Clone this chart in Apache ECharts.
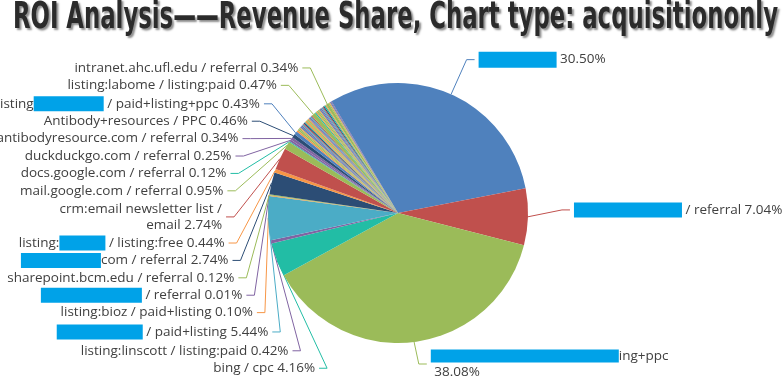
<!DOCTYPE html>
<html><head><meta charset="utf-8">
<script src="https://cdn.jsdelivr.net/npm/echarts@6/dist/echarts.min.js"></script>
<style>html,body{margin:0;padding:0;background:#fff}#c{width:782px;height:381px}</style>
</head><body><div id="c"></div>
<script>
// ---- data ----
const titleText = 'ROI Analysis\u2014\u2014Revenue Share, Chart type: acquisitiononly';
// source / medium names in clockwise order ({rN|} marks a redacted part of the name)
const sourceNames = [
  '{r0|\u00a0}', '{r1|\u00a0} / referral', '{r2|\u00a0}ing+ppc\n',
  'bing / cpc', 'listing:linscott / listing:paid', '{r3|\u00a0} / paid+listing',
  'listing:bioz / paid+listing', '{r4|\u00a0} / referral', 'sharepoint.bcm.edu / referral',
  '{r5|\u00a0}com / referral', 'listing:{r6|\u00a0} / listing:free', 'crm:email newsletter list /\nemail',
  'mail.google.com / referral', 'docs.google.com / referral', 'duckduckgo.com / referral',
  'antibodyresource.com / referral', 'Antibody+resources / PPC', 'listing{r7|\u00a0} / paid+listing+ppc',
  '', '', '', '', '', '', '', '', '', '', '', '', '', '', '', '', '', '',
  'listing:labome / listing:paid',
  '', '', '', '', '', '', '', '', '', '', '', '',
  'intranet.ahc.ufl.edu / referral',
  '', '', '', ''
];
// revenue share (%)
const revenueShare = [
  30.50, 7.04, 38.08,
  4.16, 0.42, 5.44,
  0.10, 0.01, 0.12,
  2.74, 0.44, 2.74,
  0.95, 0.12, 0.25,
  0.34, 0.46, 0.43,
  0.21, 0.18, 0.15, 0.12, 0.20, 0.14, 0.17, 0.13, 0.16, 0.11, 0.19, 0.12, 0.15, 0.14, 0.10, 0.13, 0.17, 0.13,
  0.47,
  0.16, 0.12, 0.18, 0.14, 0.11, 0.15, 0.13, 0.17, 0.12, 0.14, 0.16, 0.12,
  0.34,
  0.13, 0.11, 0.12, 0.09
];

// ---- styles / geometry ----
const H = 381;
const CX = 398, CY = 213, R0 = 130, START = 120.8;
const LEN = 38, LEN2 = 8, DIST = 4, LINE_H = 17.4, BALANCE = 0.25;

const namedColors = {
  0:'#4F81BD',1:'#C0504D',2:'#9BBB59',3:'#22BDA5',4:'#8064A2',5:'#4BACC6',6:'#F79646',7:'#8064A2',
  8:'#9BBB59',9:'#2C4D75',10:'#F79646',11:'#C0504D',12:'#9BBB59',13:'#22BDA5',14:'#8064A2',
  15:'#8064A2',16:'#2C4D75',17:'#4F81BD',36:'#9BBB59',49:'#9BBB59'
};
const cycle = ['#9BBB59','#F79646','#4F81BD','#8064A2','#4BACC6','#C0504D','#2C4D75','#22BDA5','#F79646','#9BBB59'];
const redactBox = {r0:[78,16], r1:[108,15], r2:[188,13], r3:[86,15], r4:[101,15], r5:[80,15], r6:[46,15], r7:[70,15]};
const rich = {};
Object.keys(redactBox).forEach(k => {
  rich[k] = {backgroundColor:'#00A2E8', color:'rgba(0,0,0,0)', width:redactBox[k][0], height:redactBox[k][1], fontSize:12};
});

const seriesData = sourceNames.map((n, i) => {
  const labeled = n !== '';
  return {
    name: n, value: revenueShare[i],
    itemStyle: {color: namedColors[i] || cycle[i % cycle.length]},
    label: {show: labeled},
    labelLine: {show: labeled}
  };
});

// outer label placement for the left side of the pie (stacked labels on a curve)
function leftLabelPlacement() {
  const total = revenueShare.reduce((a, b) => a + b, 0);
  let acc = 0;
  const list = [];
  revenueShare.forEach((v, i) => {
    const mid = (START - (acc + v / 2) / total * 360) * Math.PI / 180;
    acc += v;
    if (!sourceNames[i]) return;
    const ux = Math.cos(mid), uy = -Math.sin(mid);
    if (ux >= 0) return;
    const h = LINE_H * sourceNames[i].split('\n').length;
    list.push({i, ux, uy, h, y: CY + (R0 + LEN) * uy - h / 2, natX: CX + (R0 + LEN) * ux - LEN2 - DIST});
  });
  list.sort((a, b) => a.y - b.y);
  function shiftDown(start, end, delta) {
    for (let j = start; j < end; j++) {
      if (list[j].y + delta > H) break;
      list[j].y += delta;
      if (j > start && j + 1 < end && list[j + 1].y > list[j].y + list[j].h) {
        shiftUp(j, delta * BALANCE);
        return;
      }
    }
    shiftUp(end - 1, delta * BALANCE);
  }
  function shiftUp(end, delta) {
    for (let j = end; j >= 0; j--) {
      if (list[j].y - delta < 0) break;
      list[j].y -= delta;
      if (j > 0 && list[j].y > list[j - 1].y + list[j - 1].h) break;
    }
  }
  let lastY = 0;
  for (let i = 0; i < list.length; i++) {
    const d = list[i].y - lastY;
    if (d < 0) shiftDown(i, list.length, -d);
    lastY = list[i].y + list[i].h;
  }
  if (H - lastY < 0) shiftUp(list.length - 1, lastY - H);
  const up = [], down = [];
  list.forEach(it => { it.cy = it.y + it.h / 2; (it.cy >= CY ? down : up).push(it); });
  function changeX(arr, isDown) {
    let last = isDown ? Number.MAX_VALUE : 0;
    arr.forEach(it => {
      const dy = Math.abs(it.cy - CY);
      let dx = dy < R0 + LEN
        ? Math.sqrt((R0 + LEN + LEN2) * (R0 + LEN + LEN2) - dy * dy)
        : Math.abs(it.natX - CX);
      if (isDown && dx >= last) dx = last - 10;
      if (!isDown && dx <= last) dx = last + 10;
      it.x = CX - dx;
      last = dx;
    });
  }
  changeX(up, false);
  changeX(down, true);
  const out = {};
  list.forEach(it => {
    const p2x = it.x + DIST;
    out[it.i] = {
      x: it.x, y: it.cy,
      labelLinePoints: [[CX + R0 * it.ux, CY + R0 * it.uy], [p2x + LEN2, it.cy], [p2x, it.cy]]
    };
  });
  return out;
}
const leftLayout = leftLabelPlacement();

const titleFont = 'bold 37px "Liberation Sans Narrow", "DejaVu Sans Condensed", sans-serif';
const cv = document.createElement('canvas').getContext('2d');
cv.font = titleFont;
const titleScale = 765 / cv.measureText(titleText).width;

const chart = echarts.init(document.getElementById('c'));
chart.setOption({
  animation: false,
  graphic: [{
    type: 'text', x: 13, y: 0, scaleX: titleScale,
    style: {
      text: titleText, font: titleFont, fill: '#2b2b2b', verticalAlign: 'top',
      textShadowColor: 'rgba(0,0,0,0.45)', textShadowOffsetX: 2, textShadowOffsetY: 2, textShadowBlur: 2
    }
  }],
  series: [{
    type: 'pie',
    center: [CX, CY],
    radius: R0,
    startAngle: START,
    data: seriesData,
    label: {
      fontFamily: '"Open Sans", sans-serif', fontSize: 13.5, color: '#404040', lineHeight: 16,
      overflow: 'none', distanceToLabelLine: DIST,
      formatter: p => p.name + ' ' + p.percent.toFixed(2) + '%',
      rich: rich
    },
    labelLine: {length: LEN, length2: LEN2, lineStyle: {width: 1}},
    labelLayout: p => leftLayout[p.dataIndex],
    emphasis: {disabled: true}
  }]
});
</script>
</body></html>
